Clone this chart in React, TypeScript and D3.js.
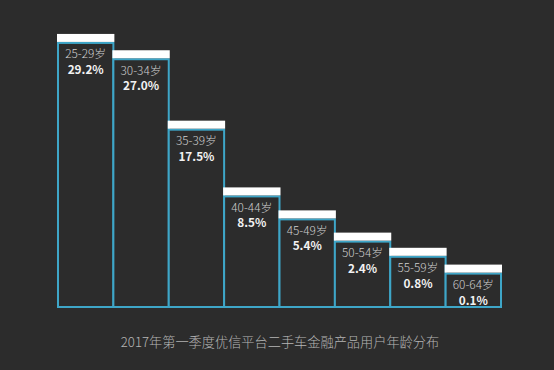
import { useRef, useEffect } from 'react';
import * as d3 from 'd3';

const WIDTH = 554;
const HEIGHT = 370;
const BG = '#2c2c2c';
const BORDER = '#3ea6c8';
const FONT = '"Noto Sans CJK SC", "Noto Sans", sans-serif';

const ageGroups = ['25-29岁', '30-34岁', '35-39岁', '40-44岁', '45-49岁', '50-54岁', '55-59岁', '60-64岁'];
const shares = [29.2, 27.0, 17.5, 8.5, 5.4, 2.4, 0.8, 0.1];
const title = '2017年第一季度优信平台二手车金融产品用户年龄分布';

const BASELINE = 307;
const CAP = 8;

export default function App() {
  const svgRef = useRef<SVGSVGElement>(null);

  useEffect(() => {
    const svg = d3.select(svgRef.current);
    svg.selectAll('*').remove();

    svg.append('rect').attr('width', WIDTH).attr('height', HEIGHT).attr('fill', BG);

    const x = d3.scaleBand<string>()
      .domain(ageGroups)
      .range([58, 501])
      .padding(0);

    // bars are not strictly proportional in the original: small values get a floor
    const y = d3.scaleLinear()
      .domain([0, 1, 30])
      .range([276, 252, 37]);

    const data = ageGroups.map((g, i) => ({ group: g, value: shares[i] }));
    const bw = x.bandwidth();

    const g = svg.append('g');

    // Bars
    g.selectAll('.bar')
      .data(data)
      .join('rect')
      .attr('class', 'bar')
      .attr('x', d => x(d.group)!)
      .attr('y', d => y(d.value))
      .attr('width', bw)
      .attr('height', d => BASELINE - y(d.value))
      .attr('fill', BG)
      .attr('stroke', BORDER)
      .attr('stroke-width', 2);

    // White caps
    g.selectAll('.cap')
      .data(data)
      .join('rect')
      .attr('class', 'cap')
      .attr('x', d => x(d.group)! - 1)
      .attr('y', d => y(d.value) - CAP - 1)
      .attr('width', bw + 2)
      .attr('height', CAP)
      .attr('fill', '#ffffff');

    // Age labels
    g.selectAll('.age')
      .data(data)
      .join('text')
      .attr('class', 'age')
      .attr('x', d => x(d.group)! + bw / 2)
      .attr('y', d => y(d.value) + 15.5)
      .attr('text-anchor', 'middle')
      .attr('fill', '#cfcfcf')
      .attr('font-size', 11.8)
      .attr('font-weight', 300)
      .attr('font-family', FONT)
      .text(d => d.group);

    // Values
    g.selectAll('.val')
      .data(data)
      .join('text')
      .attr('class', 'val')
      .attr('x', d => x(d.group)! + bw / 2)
      .attr('y', d => y(d.value) + 31)
      .attr('text-anchor', 'middle')
      .attr('fill', '#f2f2f2')
      .attr('font-size', 11.8)
      .attr('font-weight', 700)
      .attr('font-family', FONT)
      .text(d => d.value.toFixed(1) + '%');

    // Title
    svg.append('text')
      .attr('x', WIDTH / 2 + 3)
      .attr('y', 347)
      .attr('text-anchor', 'middle')
      .attr('fill', '#b5b5b5')
      .attr('font-size', 13.2)
      .attr('font-weight', 300)
      .attr('font-family', FONT)
      .text(title);
  }, []);

  return (
    <svg
      ref={svgRef}
      width={WIDTH}
      height={HEIGHT}
      style={{ position: 'absolute', left: 0, top: 0, display: 'block' }}
    />
  );
}
